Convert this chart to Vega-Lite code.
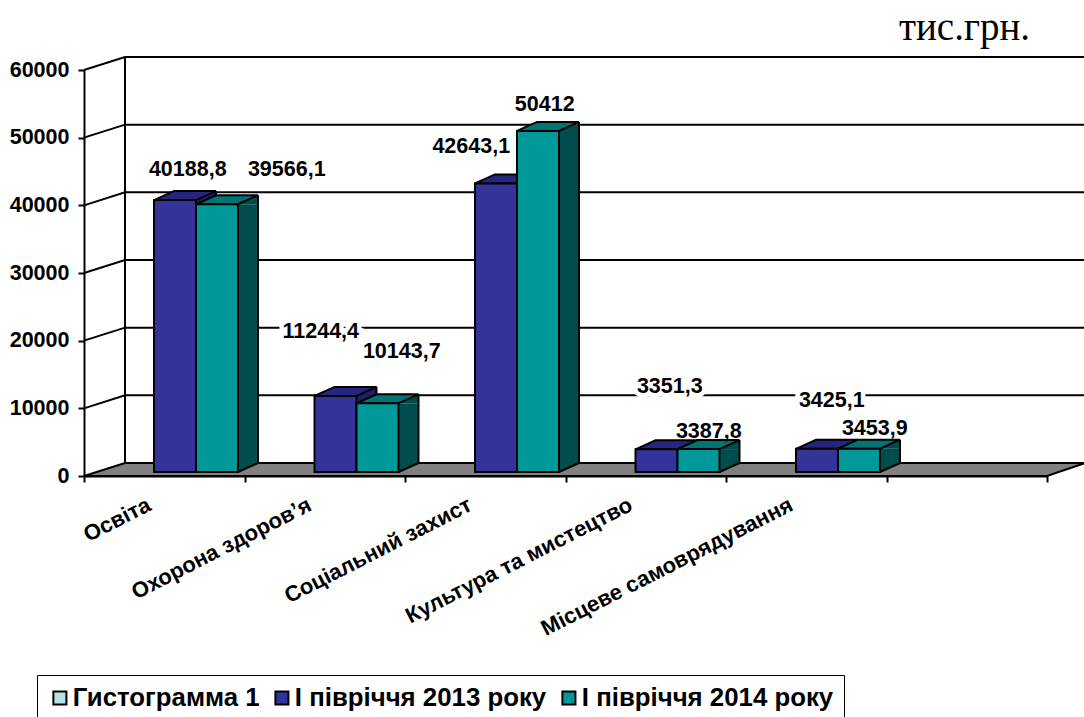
{"$schema":"https://vega.github.io/schema/vega-lite/v6.json","width":963,"height":406,"autosize":{"type":"none"},"padding":{"left":84,"top":70,"right":37,"bottom":241},"background":"white",
"title":{"text":"тис.грн.","font":"Liberation Serif","fontSize":39,"fontWeight":"normal","color":"#000000","anchor":"end","frame":"group","offset":5,"dx":-17},
"config":{"view":{"stroke":null},"axis":{"grid":false,"title":null}},
"datasets":{"bars":[
{"category":"Освіта","series":"І півріччя 2013 року","value":40188.8,"label":"40188,8"},
{"category":"Освіта","series":"І півріччя 2014 року","value":39566.1,"label":"39566,1"},
{"category":"Охорона здоров’я","series":"І півріччя 2013 року","value":11244.4,"label":"11244,4"},
{"category":"Охорона здоров’я","series":"І півріччя 2014 року","value":10143.7,"label":"10143,7"},
{"category":"Соціальний захист","series":"І півріччя 2013 року","value":42643.1,"label":"42643,1"},
{"category":"Соціальний захист","series":"І півріччя 2014 року","value":50412,"label":"50412"},
{"category":"Культура та мистецтво","series":"І півріччя 2013 року","value":3351.3,"label":"3351,3"},
{"category":"Культура та мистецтво","series":"І півріччя 2014 року","value":3387.8,"label":"3387,8"},
{"category":"Місцеве самоврядування","series":"І півріччя 2013 року","value":3425.1,"label":"3425,1"},
{"category":"Місцеве самоврядування","series":"І півріччя 2014 року","value":3453.9,"label":"3453,9"}],
"grid":[{"tick":10000},{"tick":20000},{"tick":30000},{"tick":40000},{"tick":50000},{"tick":60000}]},
"data":{"name":"bars"},
"layer":[
{"data":{"name":"grid"},"mark":{"type":"point","shape":"M-80.25,0L-39.25,-13L921,-13","size":4,"filled":false,"stroke":"#000000","strokeWidth":2,"opacity":1},"encoding":{"x":{"datum":"Освіта","type":"nominal"},"y":{"field":"tick","type":"quantitative","scale":{"domain":[0,60000],"nice":false,"zero":true},"axis":{"values":[0,10000,20000,30000,40000,50000,60000],"format":"d","labelFont":"Liberation Sans","labelFontWeight":"bold","labelFontSize":21.5,"labelColor":"#000000","domainColor":"#000000","domainWidth":2,"tickColor":"#000000","tickWidth":2,"tickSize":6,"labelPadding":9,"title":null}}}},
{"data":{"values":[{"base":0}]},"mark":{"type":"point","shape":"M-39.25,-13L-39.25,-419","size":4,"filled":false,"stroke":"#000000","strokeWidth":2,"opacity":1},"encoding":{"x":{"datum":"Освіта","type":"nominal"},"y":{"field":"base","type":"quantitative"}}},
{"data":{"values":[{"base":0}]},"mark":{"type":"point","shape":"M-80.25,0L-39.25,-13L921,-13L882.75,0Z","size":4,"filled":true,"fill":"#808080","stroke":"#000000","strokeWidth":2,"opacity":1},"encoding":{"x":{"datum":"Освіта","type":"nominal","scale":{"domain":["Освіта","Охорона здоров’я","Соціальний захист","Культура та мистецтво","Місцеве самоврядування"," "],"paddingInner":0,"paddingOuter":0},"axis":{"tickBand":"extent","labelAngle":-27,"labelAlign":"right","labelBaseline":"top","labelOffset":-20,"labelFont":"Liberation Sans","labelFontWeight":"bold","labelFontSize":22,"labelColor":"#000000","labelLimit":400,"labelPadding":12,"domainColor":"#000000","domainWidth":2,"tickColor":"#000000","tickWidth":2,"tickSize":6,"title":null}},"y":{"field":"base","type":"quantitative"}}},

{"transform":[{"filter":"datum.series==='І півріччя 2013 року'"}],"mark":{"type":"bar","width":20,"fill":"#1F1F66","stroke":null,"xOffset":41.75,"yOffset":-4,"y2Offset":-4},"encoding":{"x":{"field":"category","type":"nominal"},"y":{"field":"value","type":"quantitative"},"y2":{"datum":1330}}},
{"transform":[{"filter":"datum.series==='І півріччя 2013 року'"}],"mark":{"type":"point","shape":"M31.75,-4L51.75,-13L51.75,-4Z","size":4,"filled":true,"fill":"#1F1F66","stroke":null,"opacity":1},"encoding":{"x":{"field":"category","type":"nominal"},"y":{"field":"value","type":"quantitative"}}},
{"transform":[{"filter":"datum.series==='І півріччя 2013 року'"}],"mark":{"type":"point","shape":"M-10.25,-4L31.75,-4L51.75,-13L9.75,-13Z","size":4,"filled":true,"fill":"#262680","stroke":"#000000","strokeWidth":2,"opacity":1},"encoding":{"x":{"field":"category","type":"nominal"},"y":{"field":"value","type":"quantitative"}}},
{"transform":[{"filter":"datum.series==='І півріччя 2013 року'"}],"mark":{"type":"rule","stroke":"#000000","strokeWidth":2,"xOffset":51.75,"yOffset":-13,"y2Offset":-13},"encoding":{"x":{"field":"category","type":"nominal"},"y":{"field":"value","type":"quantitative"},"y2":{"datum":0}}},
{"transform":[{"filter":"datum.series==='І півріччя 2013 року'"}],"mark":{"type":"bar","width":42,"stroke":"#000000","strokeWidth":2,"xOffset":10.75,"yOffset":-4,"y2Offset":-4},"encoding":{"x":{"field":"category","type":"nominal"},"y":{"field":"value","type":"quantitative"},"y2":{"datum":0},"color":{"field":"series","type":"nominal","scale":{"domain":["Гистограмма 1","І півріччя 2013 року","І півріччя 2014 року"],"range":["#B8E0E0","#333399","#009999"]},"legend":{"orient":"none","legendX":-47,"legendY":605,"direction":"horizontal","columns":3,"title":null,"strokeColor":"#000000","fillColor":"#FFFFFF","padding":10,"symbolType":"square","symbolSize":170,"symbolStrokeColor":"#000000","symbolStrokeWidth":2,"labelFont":"Liberation Sans","labelFontWeight":"bold","labelFontSize":25.8,"labelColor":"#000000","labelLimit":400,"labelOffset":0,"columnPadding":9,"encoding":{"legend":{"strokeWidth":2}}}}}},

{"transform":[{"filter":"datum.series==='І півріччя 2014 року'"}],"mark":{"type":"bar","width":20,"fill":"#004D4D","stroke":null,"xOffset":83.75,"yOffset":-4,"y2Offset":-4},"encoding":{"x":{"field":"category","type":"nominal"},"y":{"field":"value","type":"quantitative"},"y2":{"datum":1330}}},
{"transform":[{"filter":"datum.series==='І півріччя 2014 року'"}],"mark":{"type":"point","shape":"M73.75,-4L93.75,-13L93.75,-4Z","size":4,"filled":true,"fill":"#004D4D","stroke":null,"opacity":1},"encoding":{"x":{"field":"category","type":"nominal"},"y":{"field":"value","type":"quantitative"}}},
{"transform":[{"filter":"datum.series==='І півріччя 2014 року'"}],"mark":{"type":"point","shape":"M73.75,-13L93.75,-13L73.75,-4Z","size":4,"filled":true,"fill":"#004D4D","stroke":null,"opacity":1},"encoding":{"x":{"field":"category","type":"nominal"},"y":{"datum":0,"type":"quantitative"}}},
{"transform":[{"filter":"datum.series==='І півріччя 2014 року'"}],"mark":{"type":"point","shape":"M73.75,-4L93.75,-13","size":4,"filled":false,"stroke":"#000000","strokeWidth":2,"opacity":1},"encoding":{"x":{"field":"category","type":"nominal"},"y":{"datum":0,"type":"quantitative"}}},
{"transform":[{"filter":"datum.series==='І півріччя 2014 року'"}],"mark":{"type":"point","shape":"M31.75,-4L73.75,-4L93.75,-13L51.75,-13Z","size":4,"filled":true,"fill":"#007373","stroke":"#000000","strokeWidth":2,"opacity":1},"encoding":{"x":{"field":"category","type":"nominal"},"y":{"field":"value","type":"quantitative"}}},
{"transform":[{"filter":"datum.series==='І півріччя 2014 року'"}],"mark":{"type":"rule","stroke":"#000000","strokeWidth":2,"xOffset":93.75,"yOffset":-13,"y2Offset":-13},"encoding":{"x":{"field":"category","type":"nominal"},"y":{"field":"value","type":"quantitative"},"y2":{"datum":0}}},
{"transform":[{"filter":"datum.series==='І півріччя 2014 року'"}],"mark":{"type":"bar","width":42,"stroke":"#000000","strokeWidth":2,"xOffset":52.75,"yOffset":-4,"y2Offset":-4},"encoding":{"x":{"field":"category","type":"nominal"},"y":{"field":"value","type":"quantitative"},"y2":{"datum":0},"color":{"field":"series","type":"nominal"}}},

{"transform":[{"filter":"datum.label==='11244,4'"}],"mark":{"type":"text","font":"Liberation Sans","fontWeight":"bold","fontSize":21.5,"stroke":"#FFFFFF","strokeWidth":9,"dx":-4,"dy":-67.9},"encoding":{"x":{"field":"category","type":"nominal"},"y":{"field":"value","type":"quantitative"},"text":{"field":"label"}}},
{"transform":[{"filter":"datum.label==='3351,3'"}],"mark":{"type":"text","font":"Liberation Sans","fontWeight":"bold","fontSize":21.5,"stroke":"#FFFFFF","strokeWidth":9,"dx":24,"dy":-66.3},"encoding":{"x":{"field":"category","type":"nominal"},"y":{"field":"value","type":"quantitative"},"text":{"field":"label"}}},
{"transform":[{"filter":"datum.label==='3425,1'"}],"mark":{"type":"text","font":"Liberation Sans","fontWeight":"bold","fontSize":21.5,"stroke":"#FFFFFF","strokeWidth":9,"dx":25.5,"dy":-51.8},"encoding":{"x":{"field":"category","type":"nominal"},"y":{"field":"value","type":"quantitative"},"text":{"field":"label"}}},

{"transform":[{"filter":"datum.label==='40188,8'"}],"mark":{"type":"text","font":"Liberation Sans","fontWeight":"bold","fontSize":21.5,"fill":"#000000","dx":23.5,"dy":-34},"encoding":{"x":{"field":"category","type":"nominal"},"y":{"field":"value","type":"quantitative"},"text":{"field":"label"}}},
{"transform":[{"filter":"datum.label==='39566,1'"}],"mark":{"type":"text","font":"Liberation Sans","fontWeight":"bold","fontSize":21.5,"fill":"#000000","dx":122.5,"dy":-38.3},"encoding":{"x":{"field":"category","type":"nominal"},"y":{"field":"value","type":"quantitative"},"text":{"field":"label"}}},
{"transform":[{"filter":"datum.label==='42643,1'"}],"mark":{"type":"text","font":"Liberation Sans","fontWeight":"bold","fontSize":21.5,"fill":"#000000","dx":-14,"dy":-40.4},"encoding":{"x":{"field":"category","type":"nominal"},"y":{"field":"value","type":"quantitative"},"text":{"field":"label"}}},
{"transform":[{"filter":"datum.label==='50412'"}],"mark":{"type":"text","font":"Liberation Sans","fontWeight":"bold","fontSize":21.5,"fill":"#000000","dx":59.5,"dy":-29.9},"encoding":{"x":{"field":"category","type":"nominal"},"y":{"field":"value","type":"quantitative"},"text":{"field":"label"}}},
{"transform":[{"filter":"datum.label==='11244,4'"}],"mark":{"type":"text","font":"Liberation Sans","fontWeight":"bold","fontSize":21.5,"fill":"#000000","dx":-4,"dy":-67.9},"encoding":{"x":{"field":"category","type":"nominal"},"y":{"field":"value","type":"quantitative"},"text":{"field":"label"}}},
{"transform":[{"filter":"datum.label==='10143,7'"}],"mark":{"type":"text","font":"Liberation Sans","fontWeight":"bold","fontSize":21.5,"fill":"#000000","dx":77,"dy":-55.4},"encoding":{"x":{"field":"category","type":"nominal"},"y":{"field":"value","type":"quantitative"},"text":{"field":"label"}}},
{"transform":[{"filter":"datum.label==='3351,3'"}],"mark":{"type":"text","font":"Liberation Sans","fontWeight":"bold","fontSize":21.5,"fill":"#000000","dx":24,"dy":-66.3},"encoding":{"x":{"field":"category","type":"nominal"},"y":{"field":"value","type":"quantitative"},"text":{"field":"label"}}},
{"transform":[{"filter":"datum.label==='3387,8'"}],"mark":{"type":"text","font":"Liberation Sans","fontWeight":"bold","fontSize":21.5,"fill":"#000000","dx":63,"dy":-21.1},"encoding":{"x":{"field":"category","type":"nominal"},"y":{"field":"value","type":"quantitative"},"text":{"field":"label"}}},
{"transform":[{"filter":"datum.label==='3425,1'"}],"mark":{"type":"text","font":"Liberation Sans","fontWeight":"bold","fontSize":21.5,"fill":"#000000","dx":25.5,"dy":-51.8},"encoding":{"x":{"field":"category","type":"nominal"},"y":{"field":"value","type":"quantitative"},"text":{"field":"label"}}},
{"transform":[{"filter":"datum.label==='3453,9'"}],"mark":{"type":"text","font":"Liberation Sans","fontWeight":"bold","fontSize":21.5,"fill":"#000000","dx":68.5,"dy":-23.6},"encoding":{"x":{"field":"category","type":"nominal"},"y":{"field":"value","type":"quantitative"},"text":{"field":"label"}}}
]}
